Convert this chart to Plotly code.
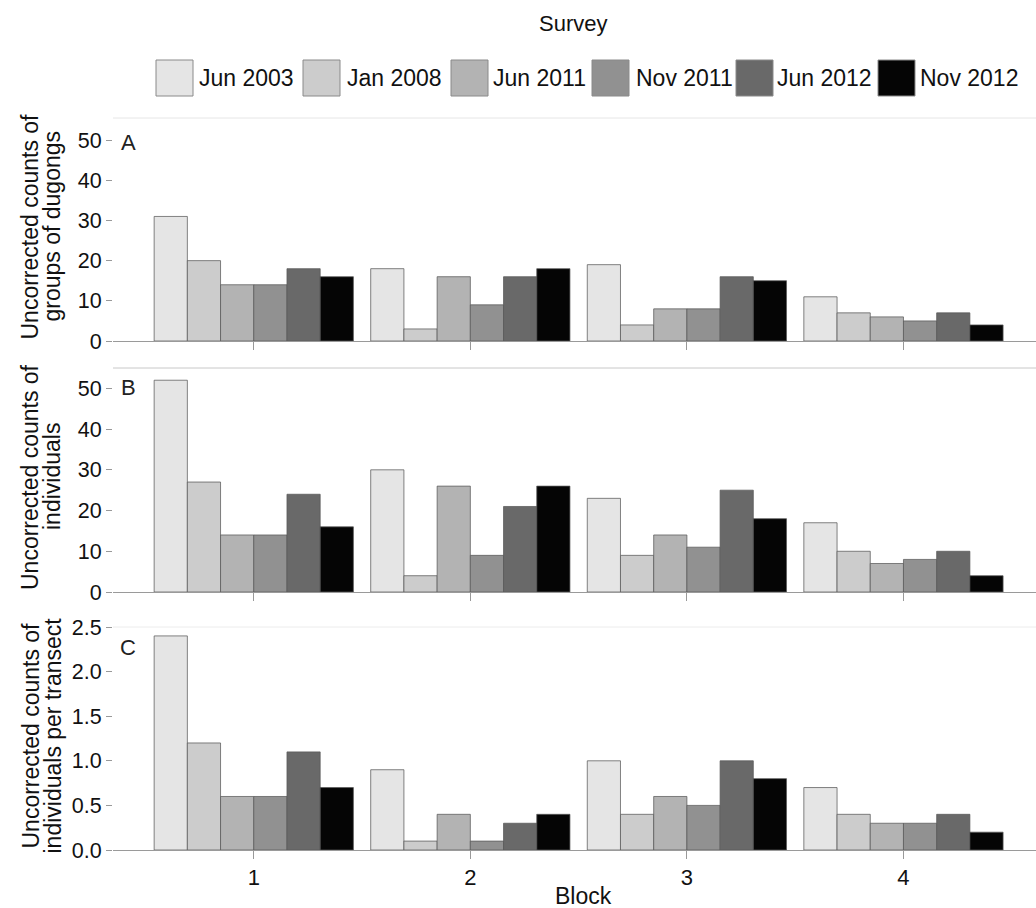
import plotly.graph_objects as go

# ---------------- data ----------------
blocks = [1, 2, 3, 4]
surveys = ["Jun 2003", "Jan 2008", "Jun 2011", "Nov 2011", "Jun 2012", "Nov 2012"]
colors = ["#e5e5e5", "#cccccc", "#b3b3b3", "#919191", "#696969", "#050505"]

# Panel A: uncorrected counts of groups of dugongs (rows = surveys, cols = blocks)
groups_jun2003 = [31, 18, 19, 11]
groups_jan2008 = [20, 3, 4, 7]
groups_jun2011 = [14, 16, 8, 6]
groups_nov2011 = [14, 9, 8, 5]
groups_jun2012 = [18, 16, 16, 7]
groups_nov2012 = [16, 18, 15, 4]

# Panel B: uncorrected counts of individuals
indiv_jun2003 = [52, 30, 23, 17]
indiv_jan2008 = [27, 4, 9, 10]
indiv_jun2011 = [14, 26, 14, 7]
indiv_nov2011 = [14, 9, 11, 8]
indiv_jun2012 = [24, 21, 25, 10]
indiv_nov2012 = [16, 26, 18, 4]

# Panel C: uncorrected counts of individuals per transect
pert_jun2003 = [2.4, 0.9, 1.0, 0.7]
pert_jan2008 = [1.2, 0.1, 0.4, 0.4]
pert_jun2011 = [0.6, 0.4, 0.6, 0.3]
pert_nov2011 = [0.6, 0.1, 0.5, 0.3]
pert_jun2012 = [1.1, 0.3, 1.0, 0.4]
pert_nov2012 = [0.7, 0.4, 0.8, 0.2]

panel_a = [groups_jun2003, groups_jan2008, groups_jun2011, groups_nov2011, groups_jun2012, groups_nov2012]
panel_b = [indiv_jun2003, indiv_jan2008, indiv_jun2011, indiv_nov2011, indiv_jun2012, indiv_nov2012]
panel_c = [pert_jun2003, pert_jan2008, pert_jun2011, pert_nov2011, pert_jun2012, pert_nov2012]

ytitles = [["Uncorrected counts of", "groups of dugongs"],
           ["Uncorrected counts of", "individuals"],
           ["Uncorrected counts of", "individuals per transect"]]
panel_letters = ["A", "B", "C"]
xtitle = "Block"
legend_title = "Survey"

# ---------------- layout geometry ----------------
W, H = 1036, 908
ML, MR, MT, MB = 113, 0, 118, 58
PW, PH = W - ML - MR, H - MT - MB


def px2x(px):
    return (px - ML) / PW


def px2y(py):
    return (H - MB - py) / PH


FONT = "Liberation Sans, Arial, sans-serif"
TXT = "#111111"

# panel pixel extents (top, bottom)
panels_px = [(118, 341), (368, 592), (627, 850)]
domains = [[px2y(b), px2y(t)] for (t, b) in panels_px]
yranges = [[0, 55.5], [0, 55], [0, 2.5]]
ytickvals = [[0, 10, 20, 30, 40, 50], [0, 10, 20, 30, 40, 50], [0, 0.5, 1.0, 1.5, 2.0, 2.5]]
yticktext = [[str(v) for v in ytickvals[0]], [str(v) for v in ytickvals[1]],
             ["0.0", "0.5", "1.0", "1.5", "2.0", "2.5"]]
xrange_ = [0.35, 4.612]

fig = go.Figure()
all_panels = [panel_a, panel_b, panel_c]
for p, pdata in enumerate(all_panels):
    xa = "x" if p == 0 else f"x{p+1}"
    ya = "y" if p == 0 else f"y{p+1}"
    for s, name in enumerate(surveys):
        fig.add_trace(go.Bar(
            x=blocks, y=pdata[s], name=name, xaxis=xa, yaxis=ya,
            marker=dict(color=colors[s], line=dict(color="rgba(90,90,90,0.75)", width=1)),
            showlegend=False,
        ))

layout = dict(
    width=W, height=H,
    margin=dict(l=ML, r=MR, t=MT, b=MB),
    paper_bgcolor="white", plot_bgcolor="white",
    barmode="group", bargap=0.08, bargroupgap=0,
    font=dict(family=FONT, color=TXT, size=21),
)
for p in range(3):
    kx = "xaxis" if p == 0 else f"xaxis{p+1}"
    ky = "yaxis" if p == 0 else f"yaxis{p+1}"
    ya = "y" if p == 0 else f"y{p+1}"
    xa = "x" if p == 0 else f"x{p+1}"
    layout[kx] = dict(
        domain=[0, 1], anchor=ya, range=xrange_,
        tickvals=blocks, ticktext=[str(b) for b in blocks],
        showticklabels=(p == 2), ticks="outside", ticklen=8, tickcolor="#999999",
        showgrid=False, zeroline=False, showline=True, linecolor="#9a9a9a", linewidth=1,
        tickfont=dict(size=22, family=FONT, color=TXT),
    )
    layout[ky] = dict(
        domain=domains[p], anchor=xa, range=yranges[p],
        tickvals=ytickvals[p], ticktext=yticktext[p],
        ticks="outside", ticklen=6, tickcolor="#999999",
        showgrid=False, zeroline=False, showline=False,
        tickfont=dict(size=21.5, family=FONT, color=TXT),
    )
fig.update_layout(**layout)

annotations = []
shapes = []
top_line_colors = ["#e6e6e6", "#c8c8c8", "#ececec"]
for p, (t, b) in enumerate(panels_px):
    cy = px2y((t + b) / 2 - 3)
    for i, line in enumerate(ytitles[p]):
        annotations.append(dict(
            text=line, xref="paper", yref="paper", x=px2x(30 + 22 * i), y=cy,
            xanchor="center", yanchor="middle", textangle=-90, showarrow=False,
            font=dict(size=23, family=FONT, color=TXT),
        ))
    xa = "x" if p == 0 else f"x{p+1}"
    ya = "y" if p == 0 else f"y{p+1}"
    letter_y = [142, 387, 647][p]
    annotations.append(dict(
        text=panel_letters[p], xref="paper", yref="paper", x=px2x(128), y=px2y(letter_y),
        xanchor="center", yanchor="middle", showarrow=False,
        font=dict(size=22, family=FONT, color="#222222"),
    ))
    shapes.append(dict(type="line", xref=f"{xa} domain", yref=f"{ya} domain",
                       x0=0, x1=1, y0=1, y1=1, line=dict(color=top_line_colors[p], width=1)))

# x-axis title
annotations.append(dict(
    text=xtitle, xref="paper", yref="paper", x=px2x(583), y=px2y(896),
    xanchor="center", yanchor="middle", showarrow=False,
    font=dict(size=23, family=FONT, color=TXT),
))

# custom legend
annotations.append(dict(
    text=legend_title, xref="paper", yref="paper", x=px2x(573), y=px2y(24),
    xanchor="center", yanchor="middle", showarrow=False,
    font=dict(size=22, family=FONT, color=TXT),
))
swatch_x = [156, 303, 451, 592, 736, 878]
text_x = [197, 345, 491, 634, 775, 918]
for s, name in enumerate(surveys):
    shapes.append(dict(type="rect", xref="paper", yref="paper",
                       x0=px2x(swatch_x[s]), x1=px2x(swatch_x[s] + 37),
                       y0=px2y(96), y1=px2y(60),
                       fillcolor=colors[s], line=dict(color="#8a8a8a", width=1)))
    annotations.append(dict(
        text=name, xref="paper", yref="paper", x=px2x(text_x[s]), y=px2y(78),
        xanchor="left", yanchor="middle", showarrow=False,
        font=dict(size=23, family=FONT, color=TXT),
    ))

fig.update_layout(annotations=annotations, shapes=shapes)
fig.write_html("out.html", config={"displayModeBar": False},
               post_script="document.body.style.margin='0px';document.body.style.overflow='hidden';")
